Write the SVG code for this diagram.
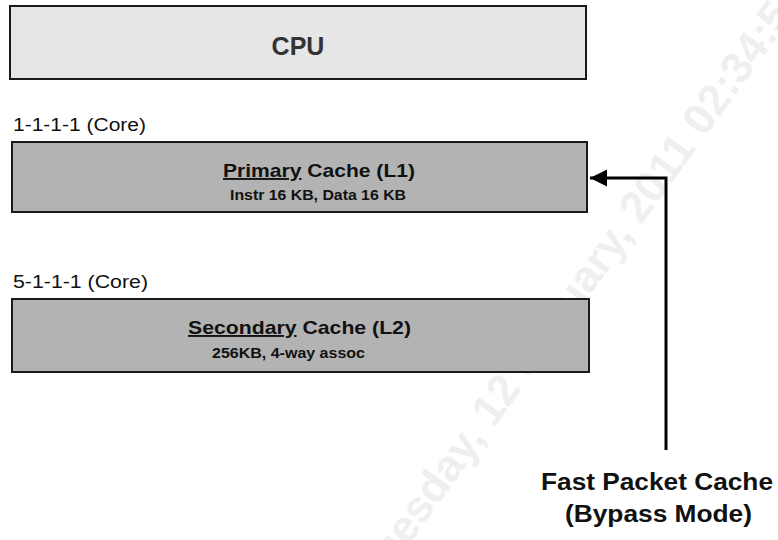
<svg xmlns="http://www.w3.org/2000/svg" width="778" height="540" viewBox="0 0 778 540">
<defs>
<style>
.box{stroke:#1a1a1a;stroke-width:2}
.t{font-family:"Liberation Sans",Arial,sans-serif;fill:#111}
.b{font-weight:bold}
.wm{font-family:"Liberation Sans",Arial,sans-serif;font-weight:bold;font-size:44px;fill:#efefef}
.conn{fill:none;stroke:#000;stroke-width:3}
</style>
<marker id="arr" markerUnits="userSpaceOnUse" markerWidth="20" markerHeight="20" viewBox="0 0 20 20" refX="18" refY="10" orient="auto">
<polygon points="1,1.5 18,10 1,18.5" fill="#000"/>
</marker>
</defs>
<rect width="778" height="540" fill="#fff"/>
<text class="wm" x="378" y="587" transform="rotate(-54 378 587)">Tuesday, 12 January, 2011 02:34:56</text>
<g id="cpu">
<rect class="box" x="10" y="6" width="576" height="73" fill="#e6e6e6"/>
<text class="t b" x="298" y="55" font-size="25" text-anchor="middle" style="fill:#333">CPU</text>
</g>
<g id="label-l1">
<text class="t" x="13" y="131" font-size="18" textLength="133" lengthAdjust="spacingAndGlyphs">1-1-1-1 (Core)</text>
</g>
<g id="primary">
<rect class="box" x="12" y="142" width="575" height="70" fill="#b3b3b3"/>
<text class="t b" x="223" y="177" font-size="19" textLength="192" lengthAdjust="spacingAndGlyphs"><tspan text-decoration="underline">Primary</tspan> Cache (L1)</text>
<text class="t b" x="230" y="200" font-size="14" textLength="176" lengthAdjust="spacingAndGlyphs">Instr 16 KB, Data 16 KB</text>
</g>
<g id="label-l2">
<text class="t" x="13" y="288" font-size="18" textLength="135" lengthAdjust="spacingAndGlyphs">5-1-1-1 (Core)</text>
</g>
<g id="secondary">
<rect class="box" x="12" y="299" width="577" height="73" fill="#b3b3b3"/>
<text class="t b" x="188" y="334" font-size="19" textLength="223" lengthAdjust="spacingAndGlyphs"><tspan text-decoration="underline">Secondary</tspan> Cache (L2)</text>
<text class="t b" x="212" y="358" font-size="15" textLength="153" lengthAdjust="spacingAndGlyphs">256KB, 4-way assoc</text>
</g>
<g id="fpc">
<text class="t b" x="541" y="490" font-size="23" textLength="232" lengthAdjust="spacingAndGlyphs">Fast Packet Cache</text>
<text class="t b" x="565" y="522" font-size="23" textLength="187" lengthAdjust="spacingAndGlyphs">(Bypass Mode)</text>
</g>
<g id="connectors">
<path class="conn" d="M666 450 V178 H590" marker-end="url(#arr)"/>
</g>
</svg>
